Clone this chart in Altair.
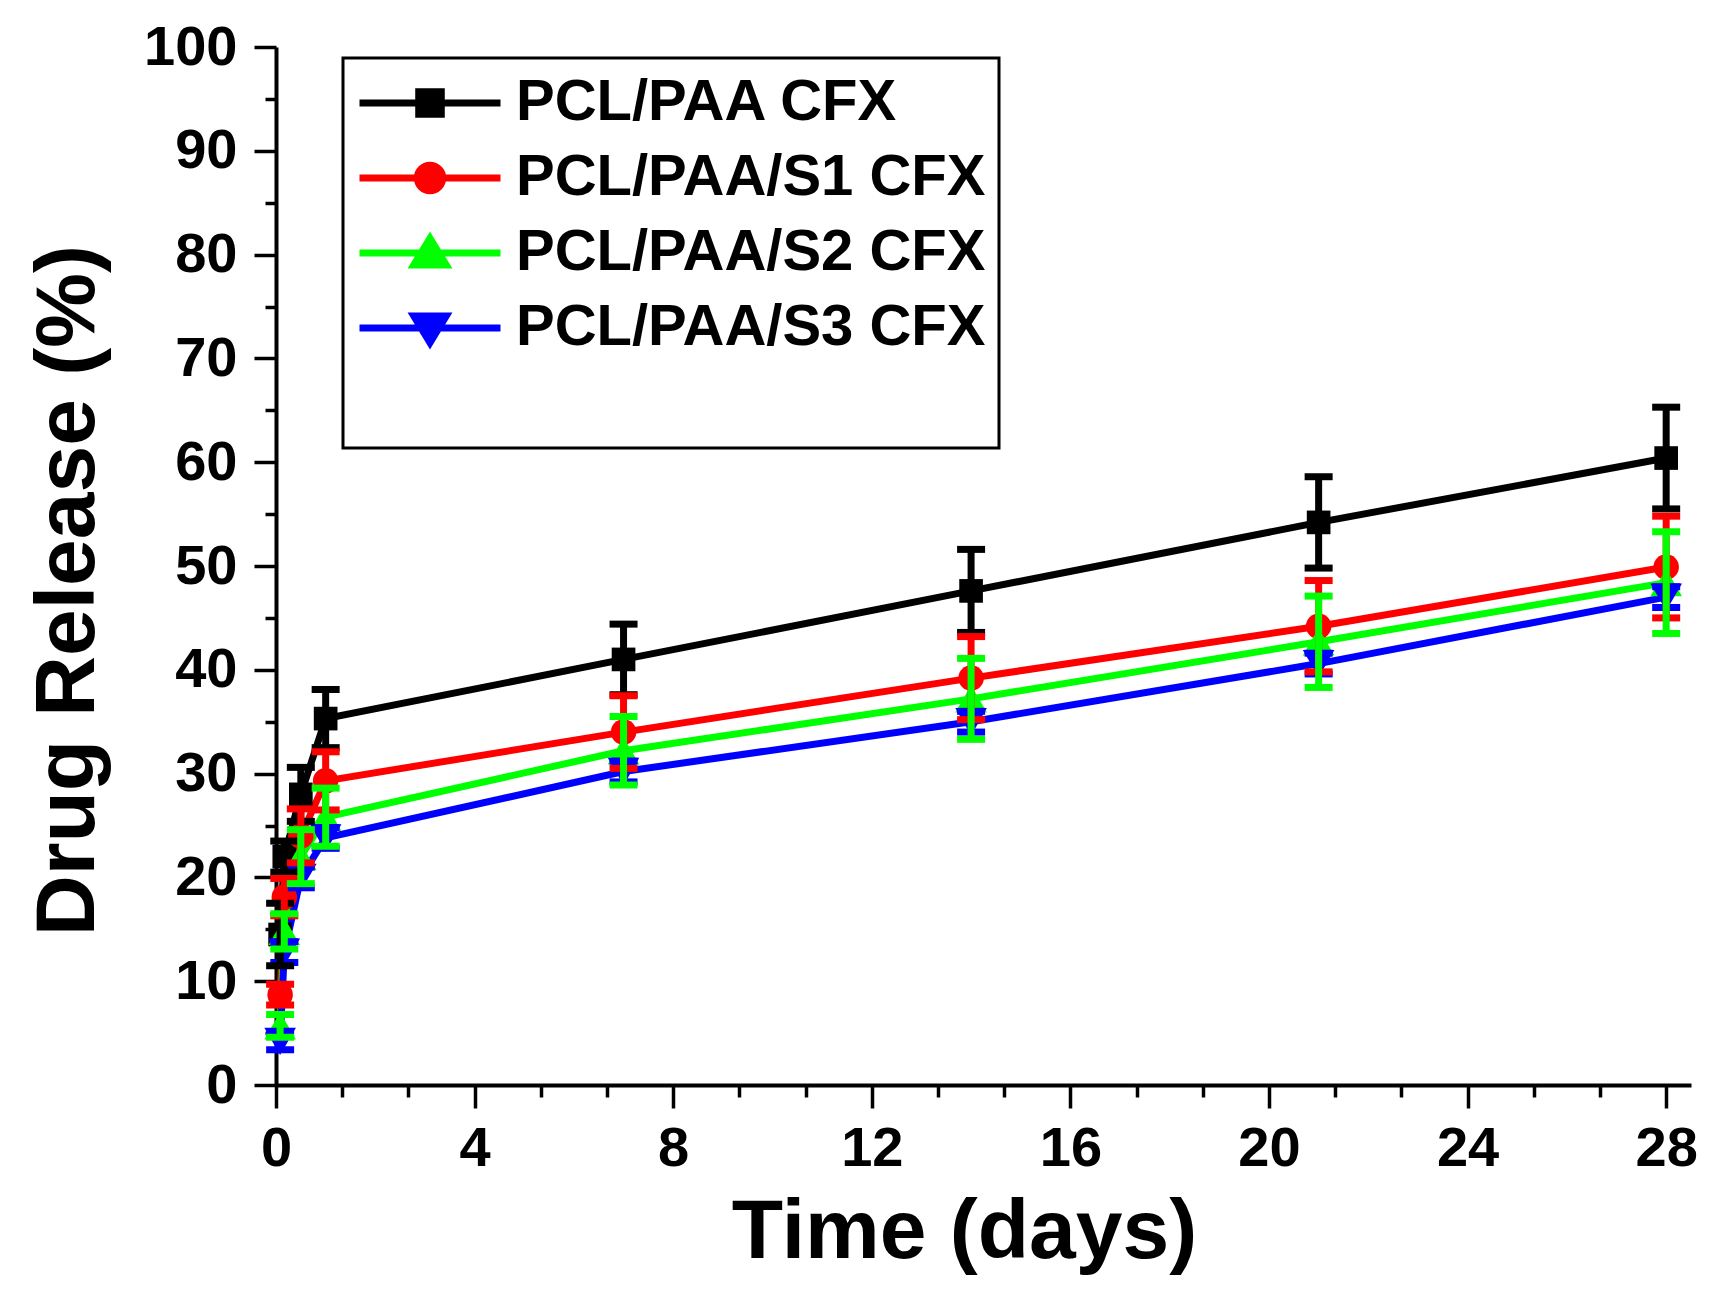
import altair as alt
import pandas as pd

# sampling times (days)
times = [0.083, 0.167, 0.5, 1, 7, 14, 21, 28]

series = ["PCL/PAA CFX", "PCL/PAA/S1 CFX", "PCL/PAA/S2 CFX", "PCL/PAA/S3 CFX"]
colors = ["#000000", "#ff0000", "#00ff00", "#0000ff"]
shapes = ["square", "circle", "triangle-up", "triangle-down"]
sizes = [560, 650, 1000, 1000]

# cumulative release (%) and error (+/-)
pcl_paa = [14.5, 22.0, 28.0, 35.3, 41.0, 47.6, 54.2, 60.4]
pcl_paa_err = [3.0, 1.5, 2.6, 2.8, 3.4, 4.0, 4.4, 4.9]
pcl_paa_s1 = [8.7, 18.1, 24.0, 29.3, 34.0, 39.2, 44.2, 49.9]
pcl_paa_s1_err = [1.0, 1.8, 2.6, 2.8, 3.5, 4.0, 4.4, 4.9]
pcl_paa_s2 = [5.7, 14.8, 22.0, 25.8, 32.2, 37.2, 42.7, 48.4]
pcl_paa_s2_err = [1.1, 1.7, 2.6, 2.8, 3.3, 3.9, 4.4, 4.9]
pcl_paa_s3 = [4.2, 12.8, 20.0, 23.8, 30.2, 35.0, 40.6, 47.0]
pcl_paa_s3_err = [0.8, 1.0, 1.0, 1.0, 1.0, 1.0, 1.0, 1.0]

values = [pcl_paa, pcl_paa_s1, pcl_paa_s2, pcl_paa_s3]
errors = [pcl_paa_err, pcl_paa_s1_err, pcl_paa_s2_err, pcl_paa_s3_err]

x_major = list(range(0, 29, 4))
x_minor = [i * 4 / 3 for i in range(22) if i % 3]
y_major = list(range(0, 101, 10))
y_minor = list(range(5, 100, 10))

# legend symbols: line segment with the marker on it
LINE = "M-1,0H1"
legend_paths = [
    LINE + "M-0.16,-0.16H0.16V0.16H-0.16Z",
    LINE + "M-0.18,0A0.18,0.18 0 1,0 0.18,0A0.18,0.18 0 1,0 -0.18,0Z",
    LINE + "M0,-0.21L0.23,0.17L-0.23,0.17Z",
    LINE + "M0,0.21L0.23,-0.17L-0.23,-0.17Z",
]

rows = []
for name, vals, errs in zip(series, values, errors):
    for t, v, e in zip(times, vals, errs):
        rows.append({"series": name, "time": t, "value": v, "lo": v - e, "hi": v + e})
df = pd.DataFrame(rows)

FONT = "Liberation Sans"
x_scale = alt.Scale(domain=[0, 28.5], nice=False, zero=False)
y_scale = alt.Scale(domain=[0, 100], nice=False)

x_axis = alt.Axis(
    values=x_major, format="d", tickSize=23, labelPadding=13, labelFlush=False,
    title="Time (days)", titleX=688, titleY=172, titleBaseline="alphabetic",
    titleAlign="center", titleFontSize=84,
)
y_axis = alt.Axis(
    values=y_major, format="d", tickSize=22, labelPadding=17, labelFlush=False,
    title="Drug Release (%)", titleX=-165, titleY=543, titleAngle=270,
    titleBaseline="bottom", titleAlign="center", titleFontSize=84,
)
x_minor_axis = alt.Axis(
    values=x_minor, tickSize=12, labels=False, domain=False, title=None,
    orient="bottom", offset=0,
)
y_minor_axis = alt.Axis(
    values=y_minor, tickSize=11, labels=False, domain=False, title=None,
    orient="left", offset=0,
)

lines, points, bars = [], [], []
for i, (name, col, shp, sz) in enumerate(zip(series, colors, shapes, sizes)):
    sub = alt.Chart(df).transform_filter(alt.datum.series == name)
    ax_x = x_axis if i == 0 else None
    ax_y = y_axis if i == 0 else None
    lines.append(
        sub.mark_line(color=col, strokeWidth=7, strokeCap="round").encode(
            x=alt.X("time:Q", scale=x_scale, axis=ax_x),
            y=alt.Y("value:Q", scale=y_scale, axis=ax_y),
        )
    )
    points.append(
        sub.mark_point(filled=True, shape=shp, size=sz, color=col, opacity=1).encode(
            x=alt.X("time:Q", axis=None), y=alt.Y("value:Q", axis=None)
        )
    )
    bars.append(
        sub.mark_rule(color=col, strokeWidth=7).encode(
            x=alt.X("time:Q", axis=None), y=alt.Y("lo:Q", axis=None), y2="hi:Q"
        )
        + sub.mark_tick(color=col, orient="horizontal", size=28, thickness=7, opacity=1).encode(
            x=alt.X("time:Q", axis=None), y=alt.Y("lo:Q", axis=None)
        )
        + sub.mark_tick(color=col, orient="horizontal", size=28, thickness=7, opacity=1).encode(
            x=alt.X("time:Q", axis=None), y=alt.Y("hi:Q", axis=None)
        )
    )

legend = alt.Legend(
    title=" ", titleOrient="bottom", titleFontSize=56, titlePadding=20,
    orient="none", legendX=67, legendY=11, padding=13,
    strokeColor="black", fillColor="white",
    symbolSize=19881, symbolStrokeWidth=7, symbolOpacity=1,
    symbolFillColor="black", symbolStrokeColor="black",
    clipHeight=64, rowPadding=11,
    labelFont=FONT, labelFontSize=58, labelFontWeight="bold", labelColor="black",
    labelOffset=12, labelLimit=1000,
)

key = alt.Chart(df).transform_filter("false").mark_point(filled=True, opacity=1).encode(
    x=alt.X("time:Q", axis=x_minor_axis),
    y=alt.Y("value:Q", axis=y_minor_axis),
    fill=alt.Fill("series:N", scale=alt.Scale(domain=series, range=colors), legend=legend),
    stroke=alt.Stroke("series:N", scale=alt.Scale(domain=series, range=colors), legend=legend),
    shape=alt.Shape("series:N", scale=alt.Scale(domain=series, range=legend_paths), legend=legend),
)

# blue error bars sit under the others
bar_order = [bars[3], bars[0], bars[1], bars[2]]
chart = alt.layer(*lines, *points, *bar_order, key).resolve_axis(
    x="independent", y="independent"
).properties(
    width=1415, height=1038,
    autosize=alt.AutoSizeParams(type="none"),
    padding={"left": 268, "top": 39, "right": 20, "bottom": 205},
).configure_view(stroke=None).configure_axis(
    grid=False, domainColor="black", domainWidth=4, tickColor="black", tickWidth=3.5,
    labelFont=FONT, labelFontSize=56, labelFontWeight="bold", labelColor="black",
    titleFont=FONT, titleFontWeight="bold", titleColor="black",
).configure_legend(strokeWidth=3)

chart.save("out.html", embed_options={"renderer": "svg", "actions": False})
